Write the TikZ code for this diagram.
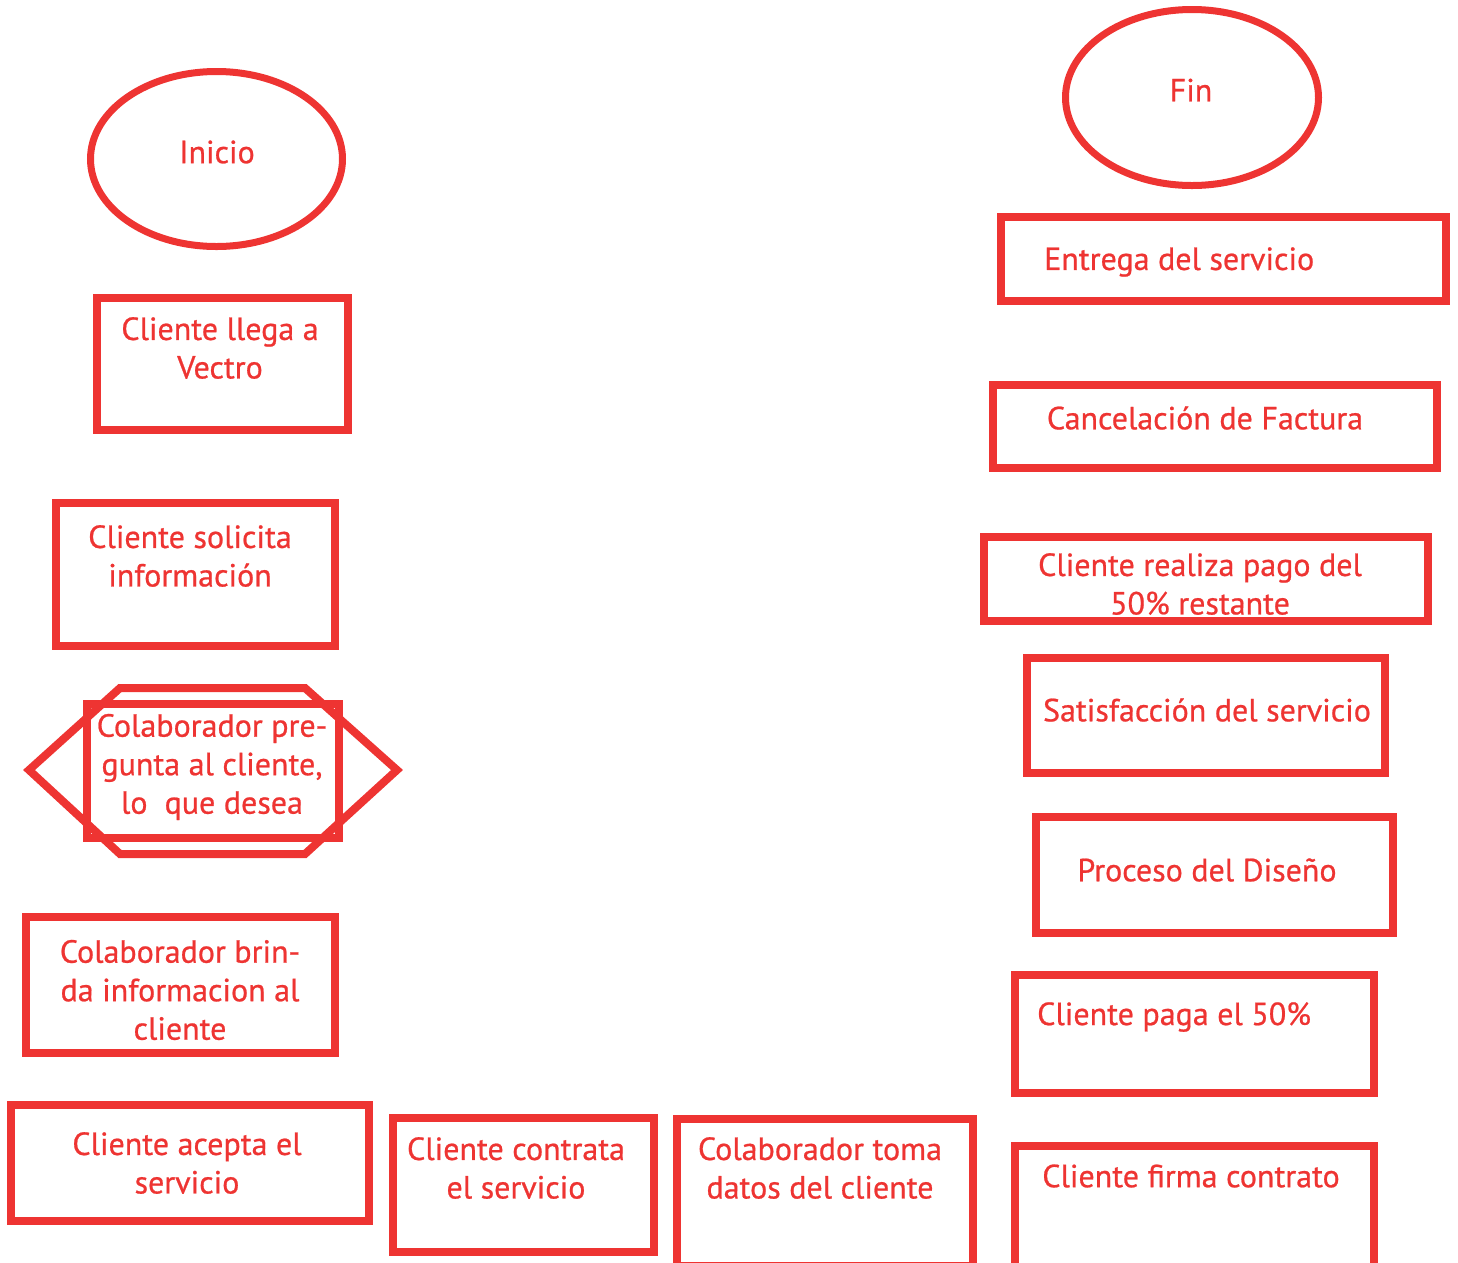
\documentclass[tikz,border=0pt]{standalone}
\usepackage{fontspec}
\setmainfont{PT Sans}[FakeBold=0.7]
\definecolor{rd}{RGB}{238,52,50}
\tikzset{
  box/.style={draw=rd, line width=8pt, rectangle, inner sep=0pt, outer sep=0pt, line join=miter},
  oval/.style={draw=rd, line width=7pt, ellipse, inner sep=0pt},
  txt/.style={text=rd, font=\fontsize{32}{38.5}\selectfont, align=center, inner sep=0pt}
}
\usetikzlibrary{shapes.geometric}
\begin{document}
\begin{tikzpicture}[x=1pt,y=-1pt]
\useasboundingbox (0,0) rectangle (1458,1262);
\begin{scope}
\clip (0,0) rectangle (1458,1262);
% ellipses
\node[oval, minimum width=252pt, minimum height=175pt] (ini) at (216.5,159) {};
\node[txt] (tini) at (217,152) {Inicio};
\node[oval, minimum width=253pt, minimum height=176pt] (fin) at (1192,97.5) {};
\node[txt] (tfin) at (1191,90) {Fin};
% right column
\node[box, minimum width=445pt, minimum height=84pt] (entrega) at (1223.5,259) {};
\node[txt, anchor=west] (tentrega) at (1044,262) {Entrega del servicio};
\node[box, minimum width=444pt, minimum height=83pt] (cancel) at (1215,426.5) {};
\node[txt] (tcancel) at (1205,418) {Cancelación de Factura};
\node[box, minimum width=444pt, minimum height=84pt] (realiza) at (1206,579) {};
\node[txt] (trealiza) at (1200,584) {Cliente realiza pago del\\50\% restante};
\node[box, minimum width=358pt, minimum height=115pt] (satisf) at (1206,715.5) {};
\node[txt] (tsatisf) at (1207,710) {Satisfacción del servicio};
\node[box, minimum width=357pt, minimum height=116pt] (proceso) at (1214.5,875) {};
\node[txt] (tproceso) at (1207,870) {Proceso del Diseño};
\node[box, minimum width=359pt, minimum height=118pt] (paga) at (1194.5,1034) {};
\node[txt, anchor=west] (tpaga) at (1037,1017) {Cliente paga el 50\%};
\node[box, minimum width=359pt, minimum height=124pt] (firma) at (1194.5,1208) {};
\node[txt] (tfirma) at (1191,1176) {Cliente firma contrato};
% left column
\node[box, minimum width=251pt, minimum height=132pt] (llega) at (222.5,364) {};
\node[txt] (tllega) at (220,348) {Cliente llega a\\Vectro};
\node[box, minimum width=279pt, minimum height=143pt] (solicita) at (195.5,574.5) {};
\node[txt] (tsolicita) at (190,556) {Cliente solicita\\información};
\draw[draw=rd, line width=8pt, line join=miter] (29,770) -- (120,688) -- (305,688) -- (397,770) -- (305,854) -- (120,854) -- cycle;
\node[box, minimum width=252pt, minimum height=134pt] (pregunta) at (213,771) {};
\node[txt] (tpregunta) at (212,767) {Colaborador pre-\\gunta al cliente,\\lo\ \ que desea};
\node[box, minimum width=309pt, minimum height=136pt] (brinda) at (180.5,985) {};
\node[txt] (tbrinda) at (180,990) {Colaborador brin-\\da informacion al\\cliente};
\node[box, minimum width=358pt, minimum height=116pt] (acepta) at (190,1163) {};
\node[txt] (tacepta) at (187,1163) {Cliente acepta el\\servicio};
\node[box, minimum width=261pt, minimum height=134pt] (contrata) at (523.5,1185) {};
\node[txt] (tcontrata) at (516,1168) {Cliente contrata\\el servicio};
\node[box, minimum width=296pt, minimum height=147pt] (toma) at (825,1192.5) {};
\node[txt] (ttoma) at (820,1168) {Colaborador toma\\datos del cliente};
\end{scope}
\end{tikzpicture}
\end{document}
